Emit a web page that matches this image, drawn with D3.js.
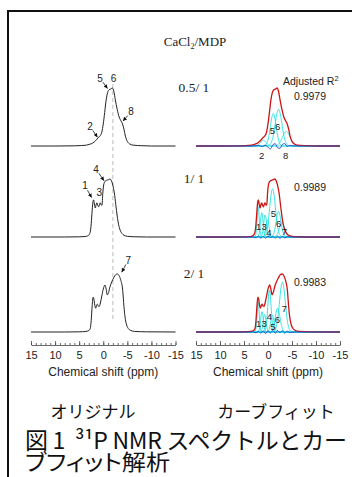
<!DOCTYPE html>
<html>
<head>
<meta charset="utf-8">
<script src="https://cdn.jsdelivr.net/npm/d3@7"></script>
<style>
  body { margin: 0; background: #fff; }
  svg { display: block; }
  .sans { font-family: "Liberation Sans", Arial, sans-serif; }
  .serif { font-family: "Liberation Serif", "Times New Roman", serif; }
  .jp { font-family: "Noto Sans CJK JP", sans-serif; }
</style>
</head>
<body>
<div id="chart"></div>
<script>
// ratio labels and adjusted R^2 per row
const ratios = ["0.5/ 1", "1/ 1", "2/ 1"];
const rsq = ["0.9979", "0.9989", "0.9983"];
const tickLabels = [15, 10, 5, 0, -5, -10, -15];

// original spectra, [ppm, intensity] (max = 100)
const spec05 = [[15,0],[10,0],[6,0.3],[4.5,0.8],[3.5,1.5],[2.8,3],[2.2,5],[1.6,9],[1.1,14],[0.6,18],[0.3,24],[0,38],[-0.3,58],[-0.6,79],[-0.9,92],[-1.2,97],[-1.5,98],[-1.9,100],[-2.2,94],[-2.5,80],[-2.9,63],[-3.3,50],[-3.7,43],[-4.0,38],[-4.3,29],[-4.6,17],[-5.0,8],[-5.5,3.5],[-6.2,1.5],[-8,0.5],[-10,0],[-15,0]];
const spec10 = [[15,0],[8,0],[5,0.3],[3.8,0.8],[3.2,2],[2.8,6],[2.55,18],[2.35,40],[2.15,60],[2.0,64],[1.85,57],[1.65,50],[1.45,57],[1.3,59],[1.1,54],[0.94,52],[0.75,57],[0.6,59],[0.4,55],[0.25,55],[0.1,75],[-0.15,92],[-0.5,97],[-0.8,98],[-1.1,99],[-1.4,100],[-1.7,97],[-2.0,89],[-2.3,76],[-2.6,56],[-2.9,36],[-3.2,21],[-3.5,12],[-3.9,6],[-4.3,3],[-5,1.2],[-6.5,0.4],[-9,0],[-15,0]];
const spec20 = [[15,0],[8,0],[5,0.3],[3.6,1],[3.0,2.5],[2.7,6],[2.5,20],[2.3,45],[2.1,60],[1.95,57],[1.75,46],[1.57,41],[1.4,46],[1.24,48],[1.05,45],[0.82,44],[0.6,50],[0.3,62],[0.0,74],[-0.36,81],[-0.6,74],[-0.84,64],[-1.1,68],[-1.4,78],[-1.75,86],[-2.2,94],[-2.6,99],[-2.92,100],[-3.3,97],[-3.62,90],[-4.04,72],[-4.3,44],[-4.52,26],[-4.86,12],[-5.2,6],[-5.6,3],[-6.5,1],[-9,0.3],[-15,0]];

// fitted components, [centre ppm, height, width ppm]
const fit05 = [[1.0,10,0.6],[-1.1,56,0.6],[-2.2,63,0.7],[-3.8,25,0.8]];
const fit10 = [[2.05,52,0.22],[1.3,42,0.28],[0.6,38,0.3],[0.1,30,0.3],[-0.95,83,0.6],[-2.2,44,0.5],[-2.9,25,0.55]];
const fit20 = [[2.05,52,0.22],[1.25,35,0.28],[0.7,30,0.3],[-0.3,72,0.35],[-0.9,29,0.35],[-2.0,41,0.5],[-3.0,86,0.6]];

// fit residuals, [ppm, intensity]
const res05 = [[15,0],[3,0],[2,1],[1.2,-1],[0.6,1.5],[0,-2],[-0.5,-5],[-1,2],[-1.5,4],[-2,-3],[-2.5,-4],[-3,3],[-3.5,4],[-4,-1],[-4.5,1],[-5.5,0],[-15,0]];
const res10 = [[15,0],[3,0],[2.5,-1.5],[2,1.5],[1.5,-2],[1,1],[0.5,-2],[0,1.5],[-0.5,-1],[-1,1],[-1.5,-2],[-2,1.5],[-2.5,-2.5],[-3,1],[-3.5,-1.5],[-4,0.5],[-5,0],[-15,0]];
const res20 = [[15,0],[3,0],[2.5,-1.5],[2,1],[1.5,-2],[1,2],[0.5,-2.5],[0,2],[-0.5,-1.5],[-1,2.5],[-1.5,-2],[-2,2.5],[-2.5,-1],[-3,2],[-3.5,-2],[-4,1.5],[-4.5,-1],[-5.5,0],[-15,0]];

// peak labels: [text, ppm, intensity] (left ones get an arrow to [tipPpm, tipInt])
const leftNotes = [
  [["5",0.67,117,-0.88,99],["6",-2.13,117],["2",2.75,34,1.2,15],["8",-5.76,59,-4.1,43]],
  [["4",1.5,117,-0.16,97],["1",3.8,88,2.4,68],["3",0.82,76]],
  [["7",-5.2,124,-3.83,103]]
];
const rightNotes = [
  [["5",-0.9,27],["6",-2.0,33],["2",1.3,-16],["8",-3.7,-16]],
  [["1",1.95,18],["3",0.8,18],["4",-0.2,7],["5",-1.1,41],["6",-2.2,23],["7",-3.4,10]],
  [["1",1.95,15],["3",0.8,15],["4",-0.27,26],["5",-1.0,10],["6",-1.94,21],["7",-3.4,41]]
];

const spectra = [spec05, spec10, spec20];
const fits = [fit05, fit10, fit20];
const resids = [res05, res10, res20];

const W = 352, H = 477;
const svg = d3.select("#chart").append("svg").attr("width", W).attr("height", H);

// frame
svg.append("path").attr("d", "M8,477V11H352")
  .attr("fill", "none").attr("stroke", "#111").attr("stroke-width", 2);

const xL = d3.scaleLinear().domain([15, -15]).range([31, 175.5]);
const xR = d3.scaleLinear().domain([15, -15]).range([196, 340]);
const base = [146, 237, 332];
const yRow = i => d3.scaleLinear().domain([0, 100]).range([base[i], base[i] - 58]);

svg.append("defs").append("marker")
  .attr("id", "ah").attr("viewBox", "0 0 10 10").attr("refX", 10).attr("refY", 5)
  .attr("markerWidth", 5).attr("markerHeight", 5).attr("orient", "auto")
  .append("path").attr("d", "M0,0L10,5L0,10z").attr("fill", "#111");

// title
const title = svg.append("text").attr("class", "serif").attr("x", 195).attr("y", 46)
  .attr("text-anchor", "middle").attr("font-size", 13).attr("fill", "#222");
title.append("tspan").text("CaCl");
title.append("tspan").attr("font-size", 8).attr("dy", 3).text("2");
title.append("tspan").attr("dy", -3).text("/MDP");

// dashed guide
svg.append("line").attr("x1", xL(-2)).attr("x2", xL(-2)).attr("y1", 84).attr("y2", 322)
  .attr("stroke", "#aaa").attr("stroke-width", 0.8).attr("stroke-dasharray", "4,3");

const grid = d3.range(15, -15.001, -0.05);
const gauss = (c, h, s) => grid.map(p => [p, h * Math.exp(-0.5 * ((p - c) / s) ** 2)]);

spectra.forEach((spec, i) => {
  const y = yRow(i);
  const lineL = d3.line().x(d => xL(d[0])).y(d => y(d[1])).curve(d3.curveMonotoneX);
  const lineR = d3.line().x(d => xR(d[0])).y(d => y(d[1])).curve(d3.curveMonotoneX);

  // left: original
  svg.append("path").attr("d", lineL(spec)).attr("fill", "none")
    .attr("stroke", "#222").attr("stroke-width", 1);

  // right: components, envelope, residual
  fits[i].forEach(f => {
    svg.append("path").attr("d", lineR(gauss(f[0], f[1], f[2]))).attr("fill", "none")
      .attr("stroke", "#22e0e0").attr("stroke-width", 0.9);
  });
  svg.append("path").attr("d", lineR(spec)).attr("fill", "none")
    .attr("stroke", "#cc1515").attr("stroke-width", 1.3);
  svg.append("path").attr("d", lineR(resids[i])).attr("fill", "none")
    .attr("stroke", "#2a3fc0").attr("stroke-width", 0.9);

  // left notes with arrows
  leftNotes[i].forEach(n => {
    const lx = xL(n[1]), ly = y(n[2]);
    svg.append("text").attr("class", "sans").attr("x", lx).attr("y", ly)
      .attr("dy", "0.35em").attr("text-anchor", "middle").attr("font-size", 10)
      .attr("fill", "#222").text(n[0]);
    if (n.length > 3) {
      const tx = xL(n[3]), ty = y(n[4]);
      const dx = tx - lx, dy = ty - ly, len = Math.hypot(dx, dy);
      svg.append("line").attr("x1", lx + dx / len * 5).attr("y1", ly + dy / len * 5)
        .attr("x2", tx).attr("y2", ty).attr("stroke", "#111").attr("stroke-width", 0.8)
        .attr("marker-end", "url(#ah)");
    }
  });

  rightNotes[i].forEach(n => {
    svg.append("text").attr("class", "sans").attr("x", xR(n[1])).attr("y", y(n[2]))
      .attr("dy", "0.35em").attr("text-anchor", "middle").attr("font-size", 9.5)
      .attr("fill", "#222").text(n[0]);
  });

  svg.append("text").attr("class", "serif").attr("x", 194).attr("y", base[i] - 54)
    .attr("text-anchor", "middle").attr("font-size", 13.5).attr("fill", "#222").text(ratios[i]);
  svg.append("text").attr("class", "sans").attr("x", 310).attr("y", base[i] - 46)
    .attr("text-anchor", "middle").attr("font-size", 10.5).attr("fill", "#222").text(rsq[i]);
});

const adj = svg.append("text").attr("class", "sans").attr("x", 283).attr("y", 85)
  .attr("font-size", 10.5).attr("fill", "#222");
adj.append("tspan").text("Adjusted R");
adj.append("tspan").attr("font-size", 7.5).attr("dy", -4).text("2");

// axes
[xL, xR].forEach(x => {
  const minor = svg.append("g").attr("transform", "translate(0,345)")
    .call(d3.axisBottom(x).tickValues(d3.range(15, -15.5, -1)).tickSizeInner(-2).tickSizeOuter(0).tickFormat(""));
  const major = svg.append("g").attr("transform", "translate(0,345)")
    .call(d3.axisBottom(x).tickValues(tickLabels).tickSizeInner(-4).tickSizeOuter(0)
      .tickPadding(6).tickFormat(d => String(d)));
  major.select(".domain").remove();
  [minor, major].forEach(g => g.selectAll("line,path").attr("stroke", "#444").attr("stroke-width", 0.8));
  major.selectAll("text").attr("font-family", "Liberation Sans, Arial, sans-serif")
    .attr("font-size", 11).attr("fill", "#222");
  svg.append("text").attr("class", "sans").attr("x", d3.mean(x.range())).attr("y", 376)
    .attr("text-anchor", "middle").attr("font-size", 12).attr("fill", "#222").text("Chemical shift (ppm)");
});

// captions
svg.append("text").attr("class", "jp").attr("x", 93).attr("y", 418).attr("text-anchor", "middle")
  .attr("font-size", 17).attr("fill", "#111").text("オリジナル");
svg.append("text").attr("class", "jp").attr("x", 276).attr("y", 418).attr("text-anchor", "middle")
  .attr("font-size", 17).attr("fill", "#111").text("カーブフィット");

svg.append("text").attr("class", "jp").attr("x", 25).attr("y", 449)
  .attr("font-size", 23).attr("fill", "#111").style("white-space", "pre")
  .attr("textLength", 322).attr("lengthAdjust", "spacing")
  .text("図 1  ³¹P NMR スペクトルとカー");

svg.append("text").attr("class", "jp").attr("x", 25).attr("y", 470).attr("font-size", 22)
  .attr("fill", "#111").style("font-feature-settings", "'palt' 1")
  .attr("textLength", 145).attr("lengthAdjust", "spacingAndGlyphs").text("ブフィット解析");
</script>
</body>
</html>
